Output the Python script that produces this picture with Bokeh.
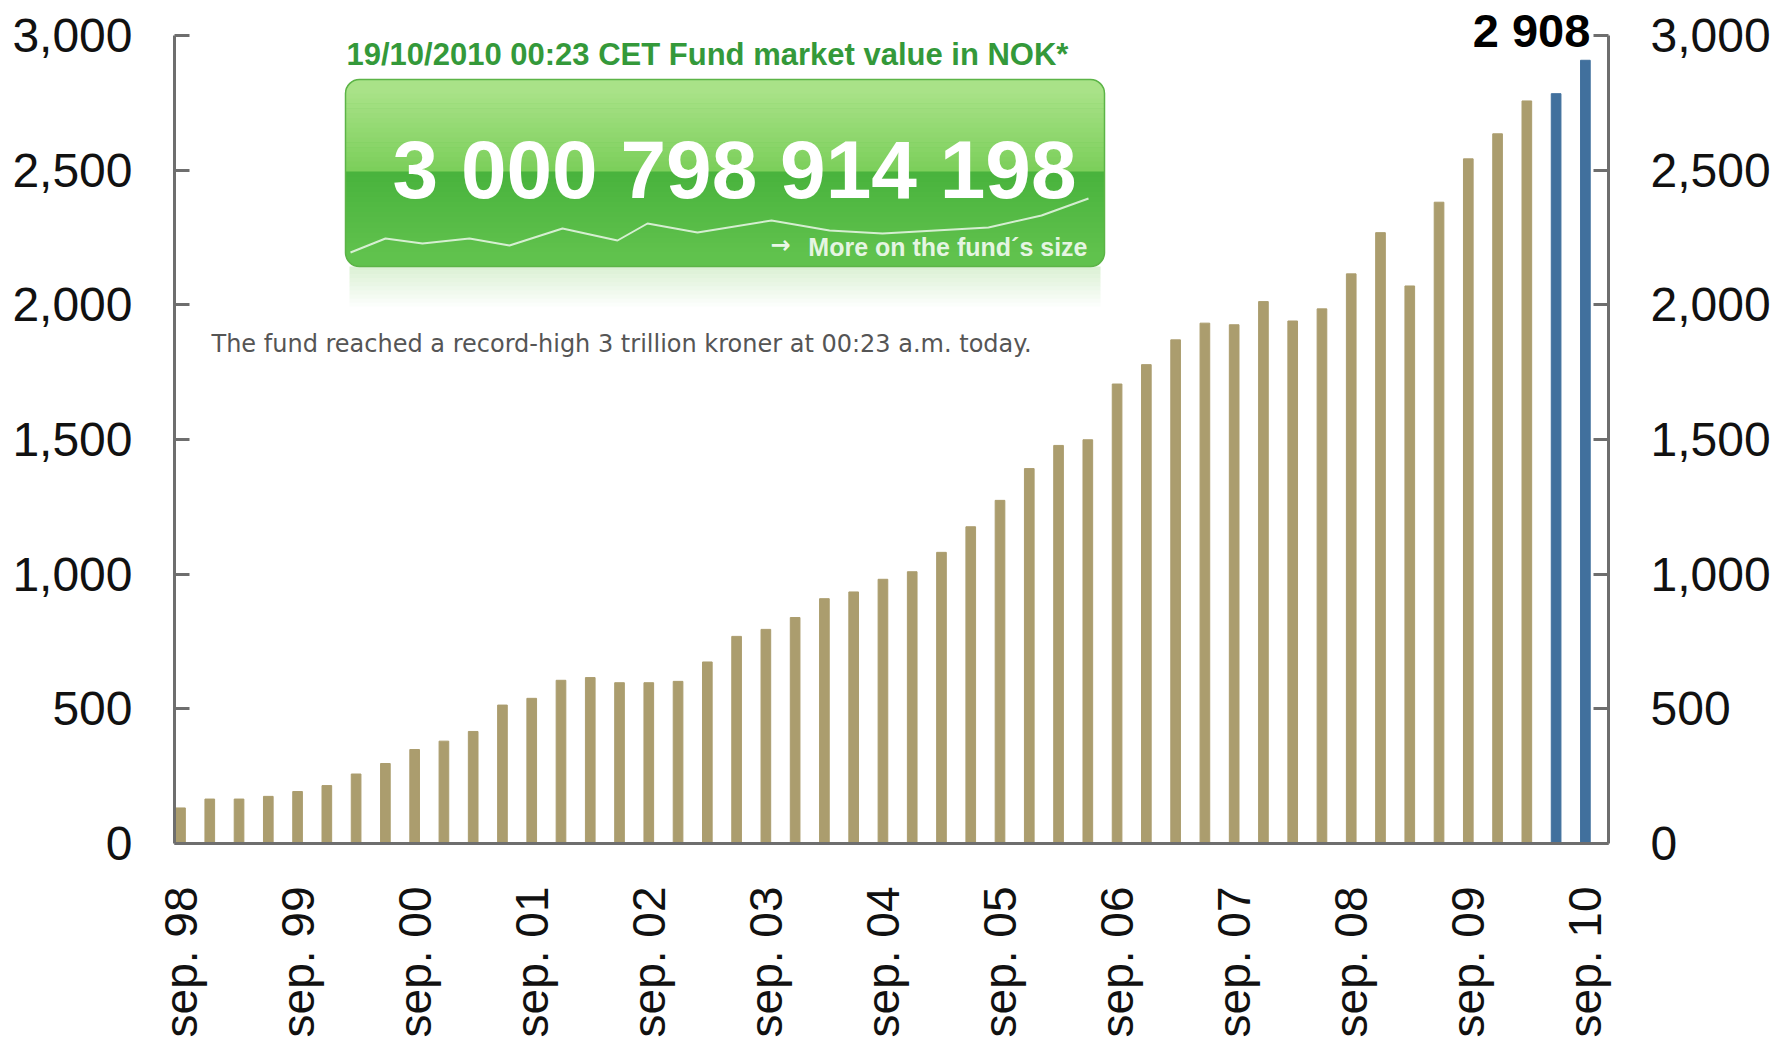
import math
from bokeh.plotting import figure
from bokeh.models import Range1d, LinearAxis, FixedTicker, NumeralTickFormatter, ColumnDataSource
from bokeh.core.properties import value
from bokeh.embed import file_html
from bokeh.resources import INLINE

# ---------------- data ----------------
fund_values = [132, 165, 165, 175, 193, 215, 258, 297, 349, 380, 416, 514, 539,
               606, 616, 597, 597, 602, 674, 769, 795, 839, 909, 934, 981, 1009,
               1081, 1176, 1274, 1392, 1478, 1499, 1706, 1778, 1870, 1932, 1926,
               2012, 1940, 1985, 2115, 2268, 2070, 2381, 2542, 2635, 2757, 2784, 2908]
highlight_count = 2
tick_labels = ["sep. 98", "sep. 99", "sep. 00", "sep. 01", "sep. 02", "sep. 03",
               "sep. 04", "sep. 05", "sep. 06", "sep. 07", "sep. 08", "sep. 09", "sep. 10"]
y_ticks = [0, 500, 1000, 1500, 2000, 2500, 3000]

widget_title = "19/10/2010 00:23 CET Fund market value in NOK*"
widget_number = "3 000 798 914 198"
widget_link = "More on the fund\u00b4s size"
widget_note = "The fund reached a record-high 3 trillion kroner at 00:23 a.m. today."

# ---------------- style ----------------
TAN = "#ab9d6e"
BLUE = "#41709d"
AX = "#6e6e6e"
FONT = "Liberation Sans"

n = len(fund_values)
xs = list(range(n))
colors = [TAN] * (n - highlight_count) + [BLUE] * highlight_count

# frame geometry (page pixels)
FL, FR, FT, FB = 174, 1608, 0, 843
Y3000 = 35
Y_TOP = 3000 * (FB - FT) / (FB - Y3000)

p = figure(frame_width=FR - FL, frame_height=FB - FT,
           x_range=Range1d(-0.205, 48.79), y_range=Range1d(0, Y_TOP),
           output_backend="svg", toolbar_location=None,
           x_axis_location=None, y_axis_location=None,
           min_border_left=FL, min_border_right=150,
           min_border_top=0, min_border_bottom=185)
p.outline_line_color = None
p.grid.visible = False
p.background_fill_color = "white"
p.border_fill_color = "white"

src = ColumnDataSource(dict(x=xs, top=fund_values, color=colors))
p.vbar(x="x", top="top", width=0.33, color="color", source=src)

# y axes left and right
for loc in ("left", "right"):
    ax = LinearAxis(ticker=FixedTicker(ticks=y_ticks),
                    formatter=NumeralTickFormatter(format="0,0"),
                    bounds=(0, 3000))
    ax.major_tick_in = 15
    ax.major_tick_out = 0
    ax.minor_tick_line_color = None
    ax.axis_line_width = 3
    ax.axis_line_color = AX
    ax.major_tick_line_width = 3
    ax.major_tick_line_color = AX
    ax.major_label_text_font = FONT
    ax.major_label_text_font_size = "48px"
    ax.major_label_text_color = "#111111"
    ax.major_label_standoff = 42
    p.add_layout(ax, loc)

tick_pos = list(range(0, n, 4))
xa = LinearAxis(ticker=FixedTicker(ticks=tick_pos),
                major_label_overrides={t: lab for t, lab in zip(tick_pos, tick_labels)})
xa.major_tick_in = 0
xa.major_tick_out = 0
xa.minor_tick_line_color = None
xa.major_tick_line_color = None
xa.axis_line_width = 3
xa.axis_line_color = AX
xa.major_label_orientation = math.pi / 2
xa.major_label_text_font = FONT
xa.major_label_text_font_size = "46px"
xa.major_label_text_color = "#111111"
xa.major_label_standoff = 43
p.add_layout(xa, "below")

# value label on last bar
p.text(x=[xs[-1]], y=[fund_values[-1]], text=[f"{fund_values[-1]:,}".replace(",", " ")],
       x_offset=5, y_offset=-30, text_align="right", text_baseline="middle",
       text_font=value(FONT), text_font_style="bold", text_font_size="47px",
       text_color="black")

# ---------------- embedded widget (pixel ranges) ----------------
p.extra_x_ranges = {"px": Range1d(FL, FR)}
p.extra_y_ranges = {"px": Range1d(0, FB - FT)}


def Y(py):
    return FB - py


def hexmix(c1, c2, t):
    a = [int(c1[i:i + 2], 16) for i in (1, 3, 5)]
    b = [int(c2[i:i + 2], 16) for i in (1, 3, 5)]
    return "#" + "".join(f"{round(a[k] + (b[k] - a[k]) * t):02x}" for k in range(3))


kw = dict(x_range_name="px", y_range_name="px")
BL, BR, BT, BB, RAD = 345, 1104, 79, 266, 14
SPLIT = 171

# reflection below the box
steps = 10
for i in range(steps):
    t0 = BB + i * 4
    p.quad(left=BL + 4, right=BR - 4, top=Y(t0), bottom=Y(t0 + 4),
           fill_color="#8fd27a", fill_alpha=0.32 * (1 - i / steps), line_color=None, **kw)

# base box
p.quad(left=BL, right=BR, top=Y(BT), bottom=Y(BB), fill_color="#56ba46",
       line_color=None, border_radius=RAD, **kw)
# top cap
p.quad(left=BL, right=BR, top=Y(BT), bottom=Y(BT + RAD + 2), fill_color="#a9e288",
       line_color=None, border_radius=(RAD, RAD, 0, 0), **kw)
# upper gradient
nb = 16
h = (SPLIT - (BT + RAD)) / nb
for i in range(nb):
    p.quad(left=BL, right=BR, top=Y(BT + RAD + i * h), bottom=Y(BT + RAD + (i + 1) * h + 0.5),
           fill_color=hexmix("#a6e185", "#7ccf5b", i / (nb - 1)), line_color=None, **kw)
# lower gradient
h2 = ((BB - RAD) - SPLIT) / nb
for i in range(nb):
    p.quad(left=BL, right=BR, top=Y(SPLIT + i * h2), bottom=Y(SPLIT + (i + 1) * h2 + 0.5),
           fill_color=hexmix("#49b33d", "#5fc14c", i / (nb - 1)), line_color=None, **kw)
# bottom cap
p.quad(left=BL, right=BR, top=Y(BB - RAD - 1), bottom=Y(BB), fill_color="#60c24d",
       line_color=None, border_radius=(0, 0, RAD, RAD), **kw)
# outline
p.quad(left=BL, right=BR, top=Y(BT), bottom=Y(BB), fill_color=None,
       line_color="#5cb447", line_width=1.5, border_radius=RAD, **kw)

# sparkline decoration
spark_px_x = [350, 385, 422, 469, 509, 562, 617, 647, 697, 771, 829, 882, 988, 1041, 1088]
spark_px_y = [252, 238, 243, 238, 245, 228, 240, 223, 232, 220, 230, 233, 227, 215, 198]
p.line(x=spark_px_x, y=[Y(v) for v in spark_px_y], line_color="white", line_alpha=0.75,
       line_width=2, **kw)

# widget texts (y = visual centre of the text line)
p.text(x=[346], y=[Y(54)], text=[widget_title], text_font=value(FONT), text_font_style="bold",
       text_font_size="31px", text_color="#34993a", text_baseline="middle", **kw)
p.text(x=[734], y=[Y(169)], text=[widget_number], text_font=value(FONT), text_font_style="bold",
       text_font_size="82px", text_color="white", text_align="center",
       text_baseline="middle", **kw)
p.text(x=[770], y=[Y(244)], text=["\u2192"], text_font=value("DejaVu Sans"), text_font_style="bold",
       text_font_size="24px", text_color="white", text_alpha=0.9, text_baseline="middle", **kw)
p.text(x=[1087], y=[Y(246)], text=[widget_link], text_font=value(FONT), text_font_style="bold",
       text_font_size="25px", text_color="white", text_alpha=0.85, text_align="right",
       text_baseline="middle", **kw)
p.text(x=[211], y=[Y(343)], text=[widget_note], text_font=value("DejaVu Sans"),
       text_font_size="24px", text_color="#555555", text_baseline="middle", **kw)

open("out.html", "w").write(file_html(p, INLINE))
